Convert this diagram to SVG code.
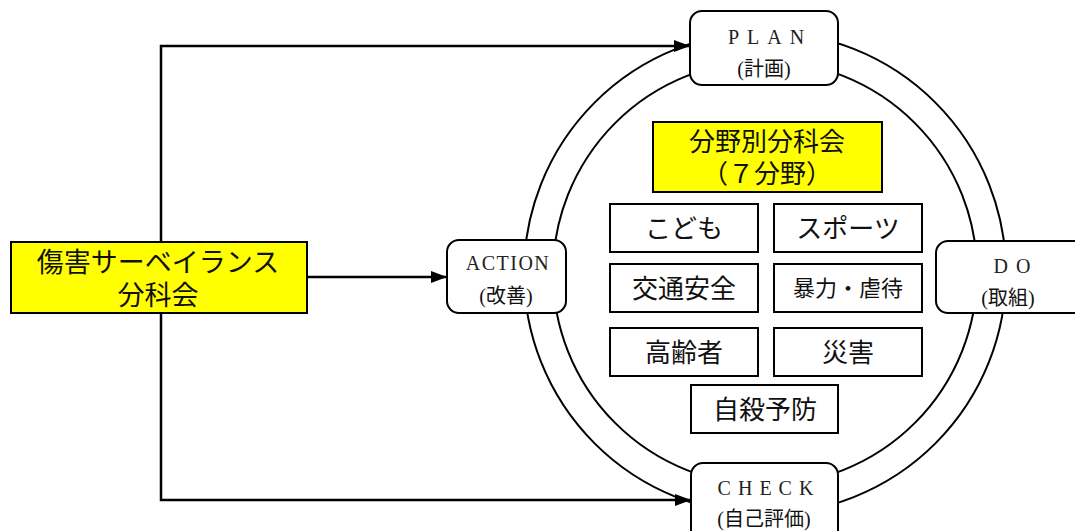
<svg xmlns="http://www.w3.org/2000/svg" width="1075" height="531" viewBox="0 0 1075 531">
<defs>
<marker id="arr" viewBox="0 0 16 12" refX="16" refY="6" markerWidth="16" markerHeight="12" markerUnits="userSpaceOnUse" orient="auto">
<path d="M0,0 L16,6 L0,12 Z" fill="#000"/>
</marker>
<style>
.ring{fill:none;stroke:#000;stroke-width:2}
.conn{fill:none;stroke:#000;stroke-width:2.5}
.pbox{fill:#fff;stroke:#000;stroke-width:2}
.ybox{fill:#ffff00;stroke:#000;stroke-width:2}
.box{fill:#fff;stroke:#000;stroke-width:2}
.lat{font-family:"Liberation Serif","Noto Sans CJK JP",serif;font-size:20px;fill:#222;text-anchor:middle}
.jp{font-family:"Liberation Serif","Noto Sans CJK JP",serif;fill:#111;text-anchor:middle}
</style>
</defs>
<g id="connectors">
<path class="conn" d="M161,242 V46 H690" marker-end="url(#arr)"/>
<path class="conn" d="M161,313 V500 H691" marker-end="url(#arr)"/>
<path class="conn" d="M307,277 H447" marker-end="url(#arr)"/>
</g>
<g id="cycle">
<circle class="ring" cx="765" cy="273" r="241"/>
<circle class="ring" cx="765" cy="273" r="212"/>
</g>
<g id="plan">
<rect class="pbox" x="690" y="11" width="148" height="74" rx="12"/>
<text class="lat" x="770" y="44" letter-spacing="8">PLAN</text>
<text class="jp" x="764" y="76" font-size="20">(計画)</text>
</g>
<g id="do">
<rect class="pbox" x="936" y="241" width="150" height="72" rx="12"/>
<text class="lat" x="1016" y="273" letter-spacing="8">DO</text>
<text class="jp" x="1008" y="305" font-size="20">(取組)</text>
</g>
<g id="action">
<rect class="pbox" x="447" y="240" width="119" height="73" rx="12"/>
<text class="lat" x="508" y="270" font-size="16" letter-spacing="1.5">ACTION</text>
<text class="jp" x="506" y="303" font-size="20">(改善)</text>
</g>
<g id="check">
<rect class="pbox" x="691" y="463" width="147" height="80" rx="12"/>
<text class="lat" x="769" y="495" letter-spacing="7">CHECK</text>
<text class="jp" x="764" y="526" font-size="20">(自己評価)</text>
</g>
<g id="injury">
<rect class="ybox" x="11" y="242" width="296" height="71"/>
<text class="jp" x="158" y="272" font-size="27">傷害サーベイランス</text>
<text class="jp" x="158" y="305" font-size="27">分科会</text>
</g>
<g id="bunya">
<rect class="ybox" x="653" y="122" width="229" height="70"/>
<text class="jp" x="767" y="151" font-size="26">分野別分科会</text>
<text class="jp" x="767" y="183" font-size="26">（７分野）</text>
</g>
<g id="kodomo">
<rect class="box" x="610" y="204" width="148" height="48"/>
<text class="jp" x="684" y="238" font-size="26">こども</text>
</g>
<g id="sports">
<rect class="box" x="774" y="204" width="148" height="48"/>
<text class="jp" x="848" y="238" font-size="26">スポーツ</text>
</g>
<g id="kotsu">
<rect class="box" x="610" y="264" width="148" height="48"/>
<text class="jp" x="684" y="298" font-size="26">交通安全</text>
</g>
<g id="boryoku">
<rect class="box" x="774" y="264" width="148" height="48"/>
<text class="jp" x="848" y="296" font-size="22">暴力・虐待</text>
</g>
<g id="koreisha">
<rect class="box" x="610" y="328" width="148" height="48"/>
<text class="jp" x="684" y="362" font-size="26">高齢者</text>
</g>
<g id="saigai">
<rect class="box" x="774" y="328" width="148" height="48"/>
<text class="jp" x="848" y="362" font-size="26">災害</text>
</g>
<g id="jisatsu">
<rect class="box" x="691" y="385" width="147" height="48"/>
<text class="jp" x="765" y="419" font-size="26">自殺予防</text>
</g>
</svg>
